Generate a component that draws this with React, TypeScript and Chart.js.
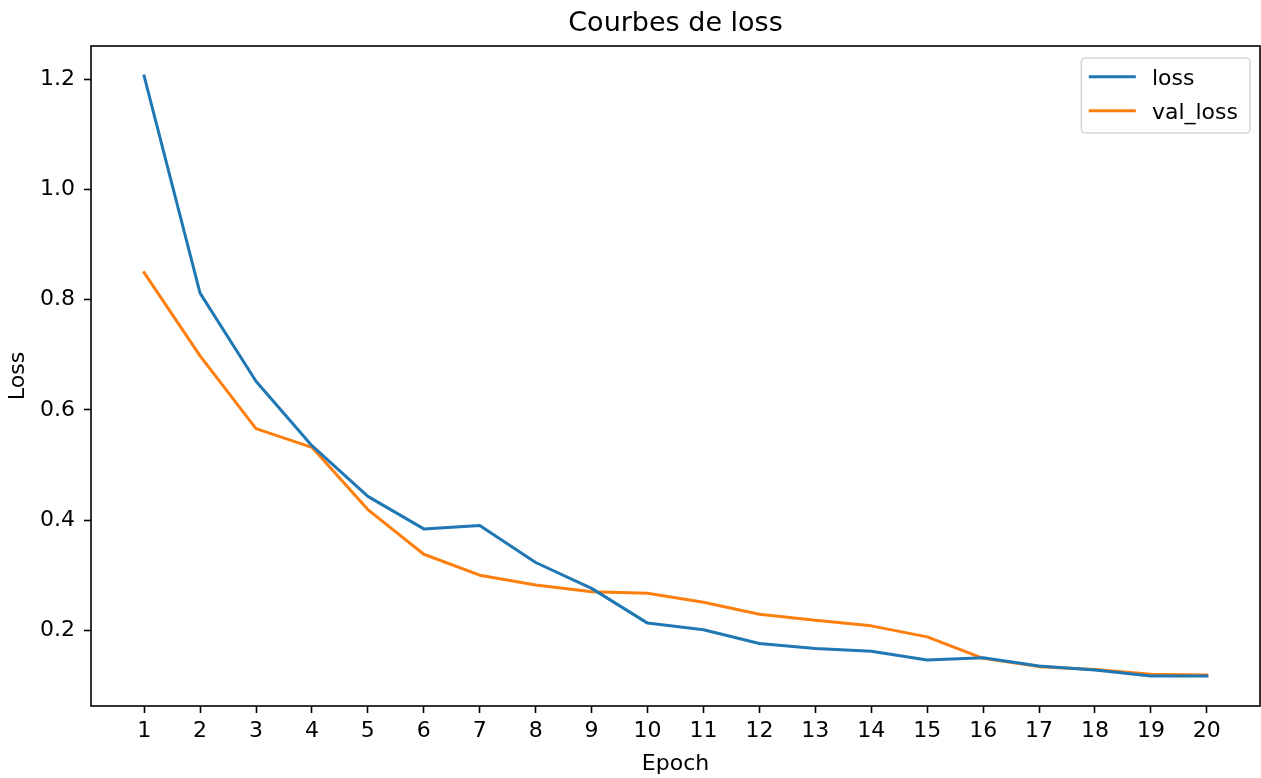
import React, { useEffect, useRef } from 'react';
import { Chart, registerables } from 'chart.js';

Chart.register(...registerables);

const chartTitle = 'Courbes de loss';
const xAxisLabel = 'Epoch';
const yAxisLabel = 'Loss';
const epochs = [1, 2, 3, 4, 5, 6, 7, 8, 9, 10, 11, 12, 13, 14, 15, 16, 17, 18, 19, 20];
const lossValues = [1.206, 0.812, 0.652, 0.535, 0.443, 0.384, 0.390, 0.323, 0.276, 0.213, 0.201, 0.176, 0.167, 0.162, 0.146, 0.150, 0.135, 0.128, 0.117, 0.117];
const valLossValues = [0.849, 0.698, 0.566, 0.532, 0.419, 0.338, 0.300, 0.282, 0.270, 0.267, 0.251, 0.229, 0.218, 0.208, 0.188, 0.149, 0.134, 0.129, 0.120, 0.119];
const yTickValues = [0.2, 0.4, 0.6, 0.8, 1.0, 1.2];
const seriesLabels = ['loss', 'val_loss'];
const seriesColors = ['#1f77b4', '#ff7f0e'];

const FONT = 'DejaVu Sans';
const FS = 22;

export default function App() {
  const ref = useRef<HTMLCanvasElement>(null);

  useEffect(() => {
    const canvas = ref.current;
    if (!canvas) return;
    const all = [...lossValues, ...valLossValues];
    const lo = Math.min(...all);
    const hi = Math.max(...all);
    const ym = (hi - lo) * 0.05;
    const xm = (epochs[epochs.length - 1] - epochs[0]) * 0.05;

    const framePlugin = {
      id: 'mplFrame',
      afterDatasetsDraw(chart: any) {
        const { ctx, chartArea: a } = chart;
        ctx.save();
        ctx.strokeStyle = '#000';
        ctx.lineWidth = 1.6;
        ctx.strokeRect(a.left, a.top, a.right - a.left, a.bottom - a.top);

        // legend box (matplotlib style)
        ctx.font = `${FS}px "${FONT}"`;
        const ds = chart.data.datasets;
        const maxW = Math.max(...ds.map((d: any) => ctx.measureText(d.label).width));
        const padL = 9;
        const handle = 44;
        const gap = 17.6;
        const padR = 12;
        const boxW = padL + handle + gap + maxW + padR;
        const rowH = 34;
        const boxH = 7 + ds.length * rowH;
        const right = a.right - 10;
        const left = right - boxW;
        const top = a.top + 12;
        const r = 4;
        ctx.beginPath();
        ctx.moveTo(left + r, top);
        ctx.lineTo(right - r, top);
        ctx.arcTo(right, top, right, top + r, r);
        ctx.lineTo(right, top + boxH - r);
        ctx.arcTo(right, top + boxH, right - r, top + boxH, r);
        ctx.lineTo(left + r, top + boxH);
        ctx.arcTo(left, top + boxH, left, top + boxH - r, r);
        ctx.lineTo(left, top + r);
        ctx.arcTo(left, top, left + r, top, r);
        ctx.closePath();
        ctx.fillStyle = 'rgba(255,255,255,0.8)';
        ctx.fill();
        ctx.strokeStyle = '#d6d6d6';
        ctx.lineWidth = 1.6;
        ctx.stroke();

        ds.forEach((d: any, i: number) => {
          const y = top + 18.7 + i * rowH;
          ctx.beginPath();
          ctx.moveTo(left + padL, y);
          ctx.lineTo(left + padL + handle, y);
          ctx.strokeStyle = d.borderColor;
          ctx.lineWidth = 3;
          ctx.lineCap = 'square';
          ctx.stroke();
          ctx.fillStyle = '#000';
          ctx.textAlign = 'left';
          ctx.textBaseline = 'alphabetic';
          ctx.fillText(d.label, left + padL + handle + gap, y + 8.5);
        });
        ctx.restore();
      },
    };

    const tickFont = { family: FONT, size: FS };
    const seriesData = [lossValues, valLossValues];

    const chart = new Chart(canvas, {
      type: 'line',
      data: {
        datasets: seriesData.map((vals, k) => ({
          label: seriesLabels[k],
          data: epochs.map((e, i) => ({ x: e, y: vals[i] })),
          borderColor: seriesColors[k],
          backgroundColor: seriesColors[k],
          borderWidth: 3,
          pointRadius: 0,
          tension: 0,
          fill: false,
          borderCapStyle: 'square',
          borderJoinStyle: 'round',
        })),
      },
      options: {
        responsive: false,
        animation: false,
        events: [],
        layout: { padding: { left: 0, right: 1, top: 0, bottom: 0 } },
        plugins: {
          legend: { display: false },
          tooltip: { enabled: false },
          title: {
            display: true,
            fullSize: false,
            text: chartTitle,
            color: '#000',
            font: { family: FONT, size: 27, weight: 'normal' },
            padding: { top: 8, bottom: 5.6 },
          },
        },
        scales: {
          x: {
            type: 'linear',
            min: epochs[0] - xm,
            max: epochs[epochs.length - 1] + xm,
            afterBuildTicks: (s: any) => {
              s.ticks = epochs.map((v) => ({ value: v }));
            },
            afterFit: (s: any) => {
              s.height = 72;
            },
            grid: {
              display: true,
              drawOnChartArea: false,
              drawTicks: true,
              tickLength: 7,
              tickWidth: 1.6,
              tickColor: '#000',
              color: '#000',
            },
            border: { display: false },
            ticks: {
              color: '#000',
              font: tickFont,
              padding: 5,
              autoSkip: false,
              maxRotation: 0,
              callback: (v: any) => String(v),
            },
            title: {
              display: true,
              text: xAxisLabel,
              color: '#000',
              font: tickFont,
              padding: { top: 0, bottom: 1 },
            },
          },
          y: {
            type: 'linear',
            min: lo - ym,
            max: hi + ym,
            afterBuildTicks: (s: any) => {
              s.ticks = yTickValues.map((v) => ({ value: v }));
            },
            afterFit: (s: any) => {
              s.width = 91;
            },
            grid: {
              display: true,
              drawOnChartArea: false,
              drawTicks: true,
              tickLength: 7,
              tickWidth: 1.6,
              tickColor: '#000',
              color: '#000',
            },
            border: { display: false },
            ticks: {
              color: '#000',
              font: tickFont,
              padding: 9,
              callback: (v: any) => Number(v).toFixed(1),
            },
            title: {
              display: true,
              text: yAxisLabel,
              color: '#000',
              font: tickFont,
              padding: { top: 5, bottom: 0 },
            },
          },
        },
      } as any,
      plugins: [framePlugin],
    });

    return () => chart.destroy();
  }, []);

  return (
    <div style={{ position: 'fixed', left: 0, top: 0, width: 1261, height: 778, background: '#fff' }}>
      <canvas ref={ref} width={1261} height={778} style={{ display: 'block' }} />
    </div>
  );
}
